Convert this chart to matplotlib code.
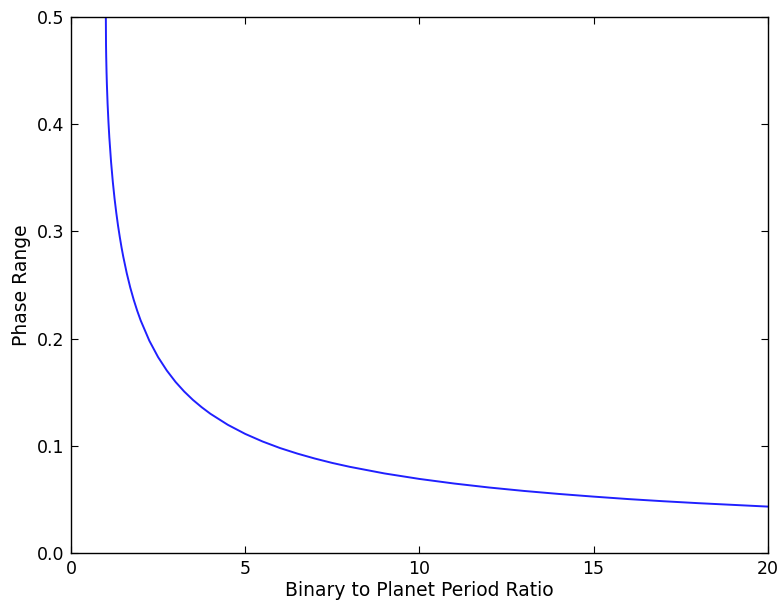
import matplotlib
matplotlib.use("Agg")
import matplotlib.pyplot as plt

# values
period_ratio = [1.0, 1.005, 1.01, 1.02, 1.03, 1.05, 1.075, 1.1, 1.15, 1.2, 1.25, 1.3, 1.35,
                1.4, 1.45, 1.5, 1.6, 1.7, 1.8, 1.9, 2.0, 2.25, 2.5, 2.75, 3.0, 3.25, 3.5,
                3.75, 4.0, 4.5, 5.0, 5.5, 6.0, 6.5, 7.0, 7.5, 8.0, 9.0, 10.0, 11.0, 12.0,
                13.0, 14.0, 15.0, 16.0, 17.0, 18.0, 19.0, 20.0]
phase_range = [0.5, 0.4741, 0.4634, 0.4484, 0.4370, 0.4192, 0.4020, 0.3877, 0.3647, 0.3462,
               0.3306, 0.3172, 0.3053, 0.2948, 0.2851, 0.2764, 0.2610, 0.2477, 0.2362,
               0.2260, 0.2169, 0.1979, 0.1827, 0.1702, 0.1596, 0.1506, 0.1428, 0.1360,
               0.1299, 0.1196, 0.1111, 0.1040, 0.0979, 0.0927, 0.0881, 0.0840, 0.0804,
               0.0742, 0.0691, 0.0648, 0.0611, 0.0579, 0.0551, 0.0526, 0.0503, 0.0483,
               0.0465, 0.0449, 0.0433]

x_ticks = [0, 5, 10, 15, 20]
y_ticks = [0.0, 0.1, 0.2, 0.3, 0.4, 0.5]

fig = plt.figure(figsize=(7.82, 6.03), dpi=100)
ax = fig.add_axes([0.0908, 0.0829, 0.891, 0.889])

ax.plot(period_ratio, phase_range, color='#2020ff', linewidth=1.4)

ax.set_xlim(0, 20)
ax.set_ylim(0, 0.5)
ax.set_xticks(x_ticks)
ax.set_yticks(y_ticks)
ax.set_xticklabels([str(t) for t in x_ticks])
ax.set_yticklabels(['%.1f' % t for t in y_ticks])
ax.tick_params(direction='in', top=True, right=True, length=5, width=0.8,
               labelsize=12.5, pad=5)
for s in ax.spines.values():
    s.set_linewidth(1.0)

ax.set_xlabel('Binary to Planet Period Ratio', fontsize=13.5, labelpad=2)
ax.set_ylabel('Phase Range', fontsize=13.5, labelpad=4)

fig.savefig('out.png', dpi=100)
